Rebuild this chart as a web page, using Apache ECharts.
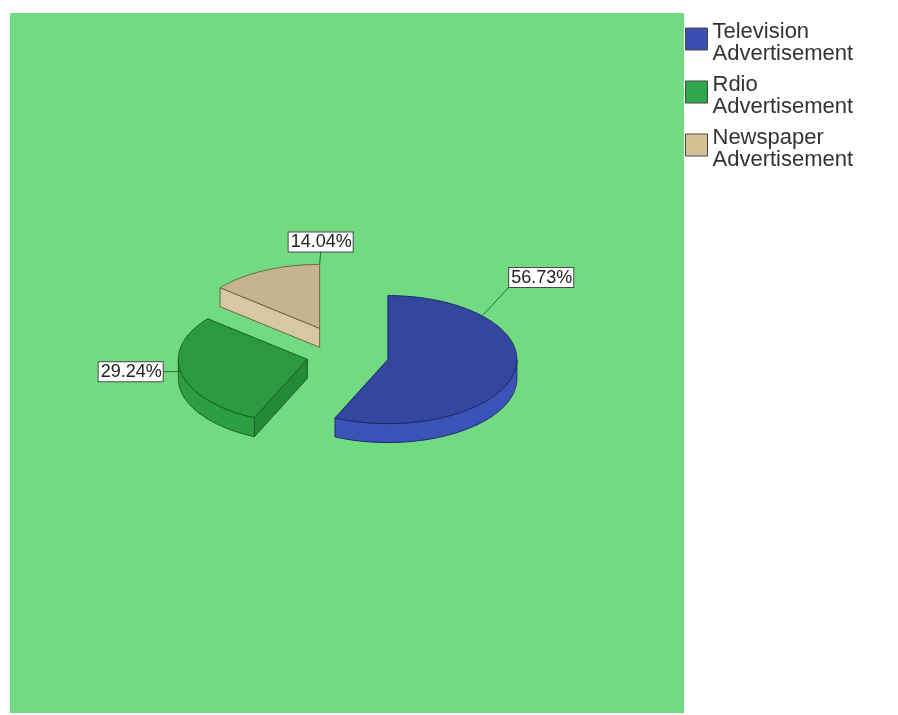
<!DOCTYPE html>
<html><head><meta charset="utf-8">
<script src="https://cdn.jsdelivr.net/npm/echarts@6/dist/echarts.min.js"></script>
<style>html,body{margin:0;padding:0;background:#fff}#c{width:898px;height:715px}</style>
</head><body><div id="c"></div>
<script>
// ---- data ----
const categories = ['Television\nAdvertisement', 'Rdio\nAdvertisement', 'Newspaper\nAdvertisement'];
const values = [56.73, 29.24, 14.04];
const valueLabels = ['56.73%', '29.24%', '14.04%'];

// ---- styles ----
const legendColors = ['#3a50b0', '#2ea84a', '#d3c394'];
const topColors = ['#34479e', '#2b9a3e', '#c4b58f'];
const wallColors = ['#3b52b6', '#2c9d40', '#c9ba94'];
const cutColors = ['#30429a', '#248a37', '#d6c8a2'];
const edgeColors = ['#1d2b6a', '#1b5e27', '#6e6446'];
const explode = [0.34, 0.30, 0.46];
const labelCfg = [
  {frac: 0.23, dx: 27, dy: -29, align: 'left', va: 'bottom'},
  {frac: 0.52, dx: -18, dy: 0, align: 'right', va: 'middle'},
  {frac: 1.0, dx: 1, dy: -13, align: 'center', va: 'bottom'}
];
const TILT = 0.496, DEPTH = 19;

const total = values.reduce((a, b) => a + b, 0);
const starts = [];
values.reduce((acc, v, i) => { starts[i] = acc; return acc + v; }, 0);

function renderItem(params, api) {
  const i = params.seriesIndex;
  const s = api.value(0), e = api.value(1);
  const c0 = api.coord([0, 0]);
  const cx = c0[0], cy = c0[1];
  function P(r, a) { const p = api.coord([r, a]); return [p[0], cy + (p[1] - cy) * TILT]; }
  const m = P(explode[i], (s + e) / 2);
  const ox = m[0] - cx, oy = m[1] - cy;
  function Q(r, a, dz) { const p = P(r, a); return [p[0] + ox, p[1] + oy + (dz || 0)]; }
  function arc(a0, a1, dz) {
    const pts = [];
    const n = Math.max(2, Math.ceil((a1 - a0) / 0.25));
    for (let k = 0; k <= n; k++) pts.push(Q(1, a0 + (a1 - a0) * k / n, dz));
    return pts;
  }
  const apex = [cx + ox, cy + oy];
  const apexD = [apex[0], apex[1] + DEPTH];
  const children = [];
  const stroke = edgeColors[i];
  const th = a => a / total * 2 * Math.PI;
  if (Math.sin(th(s)) < -1e-6) {
    children.push({type: 'polygon', shape: {points: [apex, Q(1, s), Q(1, s, DEPTH), apexD]},
      style: {fill: cutColors[i], stroke, lineWidth: 1}});
  }
  if (Math.sin(th(e)) > 1e-6) {
    children.push({type: 'polygon', shape: {points: [apex, Q(1, e), Q(1, e, DEPTH), apexD]},
      style: {fill: cutColors[i], stroke, lineWidth: 1}});
  }
  const w0 = Math.max(s, total * 0.25), w1 = Math.min(e, total * 0.75);
  if (w1 > w0) {
    const top = arc(w0, w1, 0), bot = arc(w0, w1, DEPTH).reverse();
    children.push({type: 'polygon', shape: {points: top.concat(bot)},
      style: {fill: wallColors[i], stroke, lineWidth: 1}});
  }
  children.push({type: 'polygon', shape: {points: [apex].concat(arc(s, e, 0))},
    style: {fill: topColors[i], stroke, lineWidth: 1}});
  const L = labelCfg[i];
  const anc = Q(1, s + (e - s) * L.frac);
  const lp = [anc[0] + L.dx, anc[1] + L.dy];
  children.push({type: 'polyline', shape: {points: [anc, lp]}, style: {stroke: '#2a6a30', lineWidth: 1, fill: null}});
  children.push({type: 'text', x: lp[0], y: lp[1], style: {
    text: valueLabels[i], fill: '#222', font: '18px "Liberation Sans", Arial, sans-serif',
    align: L.align, verticalAlign: L.va, backgroundColor: '#fff', borderColor: '#4a4a4a', borderWidth: 1,
    padding: [1, 1, 0, 2]}});
  return {type: 'group', children};
}

const chart = echarts.init(document.getElementById('c'), null, {renderer: 'canvas'});
chart.setOption({
  backgroundColor: '#ffffff',
  animation: false,
  graphic: [{type: 'rect', left: 10, top: 13, z: 0, silent: true,
    shape: {width: 674, height: 700}, style: {fill: '#72db82'}}],
  polar: {center: [345, 355], radius: 129},
  angleAxis: {type: 'value', min: 0, max: total, startAngle: 90, clockwise: true, show: false},
  radiusAxis: {type: 'value', min: 0, max: 1, show: false},
  legend: {
    orient: 'vertical', left: 685, top: 21, padding: 0, itemWidth: 22, itemHeight: 30, itemGap: 9,
    icon: 'path://M0,0H22V22H0Z M0,30L0,30Z', selectedMode: false,
    itemStyle: {borderColor: '#444', borderWidth: 1},
    textStyle: {fontFamily: '"Liberation Sans", Arial, sans-serif', fontSize: 22, lineHeight: 22,
      color: '#333'},
    data: categories
  },
  series: categories.map((name, i) => ({
    type: 'custom', name, coordinateSystem: 'polar', renderItem, z: 2,
    itemStyle: {color: legendColors[i]},
    data: [[starts[i], starts[i] + values[i]]]
  }))
});
</script></body></html>
